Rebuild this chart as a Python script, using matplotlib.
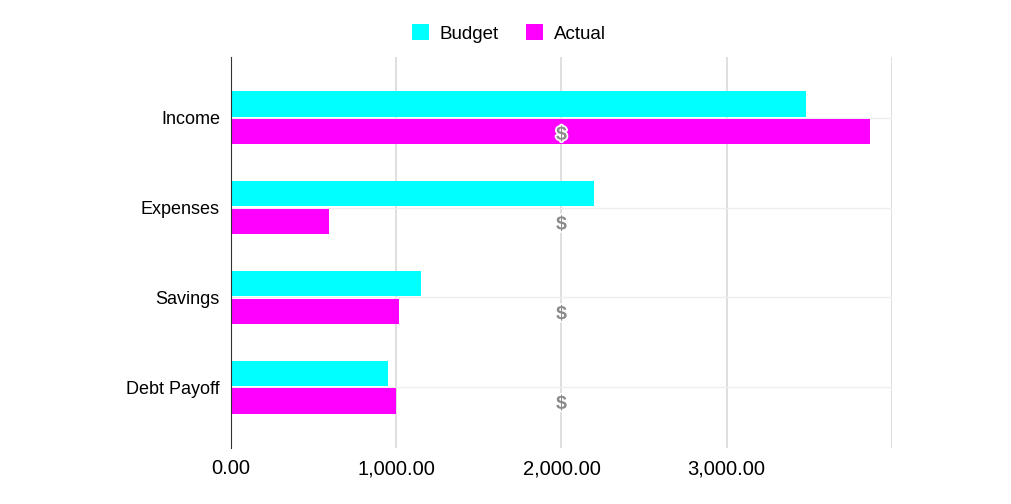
import numpy as np
import matplotlib.pyplot as plt
import matplotlib.patheffects as pe
from matplotlib.ticker import FuncFormatter

plt.rcParams['font.family'] = ['Liberation Sans', 'DejaVu Sans']

categories = ['Income', 'Expenses', 'Savings', 'Debt Payoff']
budget = [3480, 2200, 1150, 950]
actual = [3865, 590, 1015, 1000]
label_x = 2000  # where the "$" labels sit

fig = plt.figure(figsize=(10.12, 5.04), dpi=100)
ax = fig.add_axes([0.2283, 0.111, 0.653, 0.776])

y = np.arange(len(categories))
h = 0.28
off = 0.155

ax.barh(y - off, budget, height=h, color='#00ffff', label='Budget', zorder=3)
ax.barh(y + off, actual, height=h, color='#ff00ff', label='Actual', zorder=3)

for i in range(len(categories)):
    ax.text(label_x, y[i] + off + 0.04, '$', color='#8a8a8a', fontsize=14, fontweight='bold',
            ha='center', va='center', zorder=4,
            path_effects=[pe.withStroke(linewidth=2.5, foreground='white')])

ax.set_xlim(0, 4000)
ax.set_ylim(3.68, -0.68)
ax.set_yticks(y)
ax.set_yticklabels(categories, fontsize=13)
ax.set_xticks([0, 1000, 2000, 3000, 4000])
ax.xaxis.set_major_formatter(FuncFormatter(lambda v, p: '' if v >= 4000 else f'{v:,.2f}'))
ax.tick_params(axis='x', labelsize=14.5, length=0, pad=8)
ax.tick_params(axis='y', length=0, pad=8)

ax.grid(axis='x', color='#d9d9d9', linewidth=1.2, zorder=0)
ax.grid(axis='y', color='#eeeeee', linewidth=1, zorder=0)
for s in ['top', 'right', 'bottom']:
    ax.spines[s].set_visible(False)
ax.spines['left'].set_color('#333333')
ax.spines['left'].set_zorder(5)

fig.legend(loc='upper center', bbox_to_anchor=(0.503, 1.0), ncol=2, frameon=False,
           fontsize=13.5, handlelength=0.9, handleheight=0.9, handletextpad=0.6,
           columnspacing=1.45, borderaxespad=0.9)

plt.savefig('out.png')
